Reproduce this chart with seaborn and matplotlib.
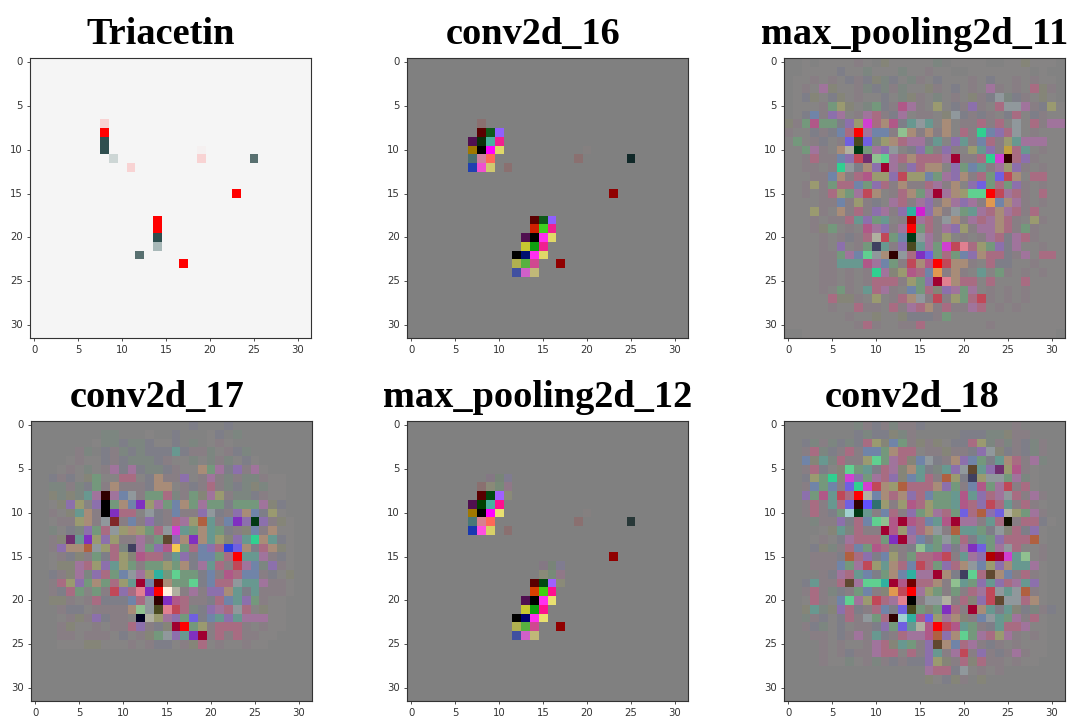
import matplotlib
matplotlib.use("Agg")
import matplotlib.pyplot as plt
import numpy as np
import seaborn as sns
from matplotlib.colors import ListedColormap

# each row is 32 cells, one letter per cell, spaces only to help counting columns
SPOT_COLORS = {
    '.': '#808080', 'w': '#f5f5f5', 'P': '#f8d3d3', 'R': '#ff0000', 'S': '#2f4f4f',
    'L': '#cdd6d5', 'l': '#a8b8b8', 'M': '#587070', 'Q': '#f5f0f0', 'a': '#8a7070',
    'A': '#858080', 'x': '#5a0000', 'X': '#900000', 'd': '#0f5a1a', 'D': '#004a10',
    'v': '#9060ff', 'V': '#a060ff', 'j': '#501050', 'f': '#0a300a', 'F': '#004000',
    't': '#4ab0a0', 'p': '#f02090', 'I': '#ff1090', 'o': '#a07800', 'K': '#000000',
    'm': '#ff00ff', 'y': '#e0d868', 'Y': '#e8e070', 'c': '#4a7070', 'C': '#487878',
    'h': '#d080a0', 'H': '#d88090', 'n': '#ff6858', 'b': '#2040b0', 'B': '#1838b0',
    'i': '#f050d0', 'J': '#ff50e0', 'u': '#d0c870', 'U': '#d8d068', 'z': '#102828',
    'Z': '#283838', '1': '#d02000', '2': '#d84000', '3': '#40d020', '4': '#40d010',
    '5': '#ff30f0', '6': '#c8c830', '7': '#10a010', '8': '#001070', '9': '#000070',
    '0': '#b0b050', 'g': '#58b040', 's': '#d04890', 'q': '#4050a0', 'r': '#d060c8',
    'k': '#c0b878', 'E': '#847884', 'G': '#788478', 'N': '#807c90', 'O': '#8a8a78',
    'T': '#788a78', 'W': '#907888',
}

NOISE_COLORS = {
    '.': '#828282', ',': '#868484', '-': '#7c8680', '~': '#7e7e88', ':': '#887e84',
    ';': '#858578', 'g': '#74987c', 't': '#689890', 'b': '#7084a8', 'v': '#8c70ac',
    'p': '#a0749c', 'r': '#a86c82', 'o': '#a88c78', 'y': '#9a9a70', 's': '#90989c',
    'm': '#b05888', 'c': '#c04858', 'q': '#90c090', 'n': '#60d090', 'u': '#7060e0',
    'h': '#d040d0', 'k': '#b06040', 'i': '#b0b0a0', 'j': '#703070', 'x': '#e08090',
    'w': '#a0d0d0', 'z': '#6050ff', 'e': '#307070', 'l': '#802828', 'R': '#ff0000',
    'K': '#000000', 'N': '#003a14', 'E': '#300000', 'D': '#a00030', 'O': '#e09850',
    'Y': '#f5c850', 'W': '#fff0e0', 'T': '#30b0a0', 'G': '#30d090', 'U': '#3040e0',
    'V': '#8030c0', 'A': '#b00000', 'a': '#700000', 'B': '#604830', 'F': '#000020',
    'J': '#404060', 'Q': '#101000', 'Z': '#4a4a20', 'H': '#d020d0', 'S': '#c0a040',
}

TRIACETIN = [
    "", "", "", "", "", "", "",
    "wwwww wwwP",
    "wwwww wwwR",
    "wwwww wwwS",
    "wwwww wwwS wwwww wwwww Q",
    "wwwww wwwwL wwwww wwwwP wwwww M",
    "wwwww wwwww wP",
    "", "",
    "wwwww wwwww wwwww wwwww wwwR",
    "", "",
    "wwwww wwwww wwwwR",
    "wwwww wwwww wwwwR",
    "wwwww wwwww wwwwS",
    "wwwww wwwww wwwwl",
    "wwwww wwwww wwM",
    "wwwww wwwww wwwww wwR",
    "", "", "", "", "", "", "", "",
]

CONV2D_16 = [
    "", "", "", "", "", "", "",
    "..... ...a",
    "..... ...xd v",
    "..... ..jft p",
    "..... ..oKm y.... ..... A",
    "..... ..chn ..... ....a ..... z",
    "..... ..biu .a",
    "", "",
    "..... ..... ..... ..... ...X",
    "", "",
    "..... ..... ....x dv",
    "..... ..... ....1 3p",
    "..... ..... ...jK 5y",
    "..... ..... ...67 p",
    "..... ..... ..K85 y",
    "..... ..... ..0gs ..X",
    "..... ..... ..qrk",
    "", "", "", "", "", "", "",
]

MAX_POOLING_12 = [
    "", "", "", "", "", "",
    "..... ....E GN",
    "..... ...aO TW",
    "..... ...xD VO",
    "..... ..jFt I",
    "..... ..oKm Y.... ..... A",
    "..... ..CHn ..... ....a ..... Z",
    "..... ..BJU .a",
    "", "",
    "..... ..... ..... ..... ...X",
    "..... ..... ..... EGN",
    "..... ..... ..... OTW",
    "..... ..... ....x DVO",
    "..... ..... ....2 4I",
    "..... ..... ...jK 5Y",
    "..... ..... ...67 I",
    "..... ..... ..K95 Y",
    "..... ..... ..0gs ..X",
    "..... ..... ..qrk",
    "", "", "", "", "", "", "",
]

MAX_POOLING_11 = [
    "..,., ,,,:, .;,,, ,,-., ,,,.. ,,;,, ,.",
    "..,,, ,~,,- ,,,-, ,:,,. .,,,, ,,,., ..",
    ".,,:, :,~:~ ;-~,- :,~,, ,:,~, ,:,:, ,.",
    ".,:,p ;,,:- ~-:-, ,;:,~ ,:,p: ,:,r; :.",
    ".,~;, ~;,:, ,~,-; :,-,: ,;:~s -~:,; ,.",
    ".,,,: gy;,- g~:mp :,y,~ :v:,r ssp:~ y,",
    ".,~b: vp,:p r:~p, ::,;s ~:~:, ~r,~: ,,",
    ";:gmg g~vyh rom~t st,o, ::r:r ,s,r: pp",
    ":,,~: ~brRp bb:qo :o:o, r:Gbv rs,:, ,,",
    ",g,:~ ,:uZu -yorp p~t,v t:br: ytppp ,,",
    ",,gp: ,oiNg pvs,~ vg:v: ,ytv: Srt,: ,,",
    ",,:r: :bvcj qnpro rrrpD ::rGh Erv:, ,,",
    ",,::, :Gs~o vDp:v roo,v gbt:p yv:,: ,,",
    ",,,:: bo:rm yyvcy ybgpv o:rgu co,rr ,,",
    ",,:y: grrbg vr:o: :rp:o ,vugr gv:,: ,,",
    ",,:,: rygpc o,:ro gpDpo ynnRc pr:,r ,,",
    ",,,,: :b:y: ~,pr: pv:op vp:Ob op:,: ,,",
    ",,,y: ,o:r: vp:vT Hvo:s gtpro pr:r, ,,",
    ",,,:, ::rtv gt,:A pr:so :prpo r:,y: ,,",
    ",,,:; g,:,m pv:pR gr:pv y:ppo r:g:, ,,",
    ",,,,: ,:~:r icgbN sp:y, :,:pr ~pr:, ,,",
    ",,,,: ,v,:g Jt:vZ tpghc xrygv ~p,,: ,,",
    ",,,,: :gpbn soEsr Vugrg bvorr ~:p,r r,",
    ",,,,: :tttm pbg:c omRco o:,r~ ~,,:, ,,",
    ",,,,: :,:,: Gp;ym rbO:o :,t,g :,:,: ,,",
    ",,,,: :,:,: rrr:y gvDxo rr,r, ,,r,, ,,",
    ",,,,: ,g:,t rp:,b gr;vp gp,:, :,:,, ,,",
    ",,,,, r;;:, y,:ro s:c:y grc:, :,:,, ,,",
    ",,,,, :,,r: :,r:p ro:r: :pr,: ,:,,, ,,",
    ",,,,, ,,:,, ;,,;~ ~~:g, ,,,,, ,,,,, ,,",
    ",,,,, ,,,:r :,,:: r,,,, ,,,:, ,,,,, ,,",
    "..,,, ,,,,, ,,,,, ,,,,, ,,,,, ,,,,, ,.",
]

CONV2D_17 = [
    "..... ..... ..... ...~. ..~.. ..... ..",
    "..... ...-- ...,. .~... ,~.-. ..... ..",
    "..... ..,-- ~--~, ,~.-. ,:,.. ..... ..",
    "..... :-.~: -~-~~ ~t~:: -,:~- ..... ..",
    "...., :,,~: ~---~ :,,-, -:-,~ ,.... ..",
    "...,: ,-,:p ~p~-- ~:,,o gp~v: p,... ..",
    "..~:~ ,;g,, rr,~o ::v,: p:-:- -:,,. ..",
    "..--: -~g:o :::~o o,:~: r:-~- ;-,,. ..",
    "..;-; -tpEp bs:gg r-:g; py:-- ~:,,. ..",
    "..,;v y,vKg obVyp gbogp gg~gg gp;~. ..",
    "..:,; to:KV rr,s~ :b::v s~:vo b~y,. ..",
    "..,:: yo:sl :b:v~ :rpyk t:bVv Nv:;, ..",
    "..-,~ -vgrs yoygr shtgo tg~:; b:o,, ..",
    "..:;j tVyvy ::p:g BvoVo ty;vt Got~, ..",
    "..:vo oksyr -Jpgv mYgrb vrUuo ~ro;, ..",
    "..,:~ ;:g~r y;mrr ~tv~b bgrRt tp:~, ..",
    "..,;; pryvt yg:gg ygo~p tr:cp b-v:, ..",
    "..~:; p-vrg bspyT gngg~ b:mrb b:~,; ..",
    "..:ry vgogr ytDba oggn~ brrst tp::, ..",
    "..:~r g,g:c vrxVR Wi:p: vvot~ t:::, ..",
    "..;;: ,:r~~ ~brsE Vmr:: ~rbtv g:,,. ..",
    "...:~ ~,::: :oqsZ xcr-~ vprsr ,;,,. ..",
    "...,: ;:v~: :,Fiy pvgu~ btvtp pp,,. ..",
    "...:; ,,:,: :rv:~ ;DRgy :rrr: ,:,,. ..",
    "...:: ,:::, ~,:;g svtVD :r:r: :,,.. ..",
    "...,, ,;;,, ,:,:~ ~,:;r ,:,,: ,,... ..",
    "", "", "", "", "", "",
]

CONV2D_18 = [
    "..... ...-: ~:-:: ~.... ..... .:... ..",
    "..... ...~- ~~;-: ..... ~~~-- ;::.. ..",
    "..~-: -~-~r y;bg: ;:;,~ ~ry-: -:~-: ..",
    "..:r- ~:r:b bgorr ,::;: :~vs; ~:~-: ..",
    "..b;t -r::y ngpr; bs~:o vbg~t or:p- ..",
    "..:r~ ,;ngt ~rp;o t~-tv sBtvj ym:,. ..",
    "..~yg G;hvg prv;b tr:ky ~Jyss gp-,. ..",
    "..:bg b:uGh coykr rrovg :bmgp c:r,. ..",
    "..vgm tcrRi borov rbggt mtvrp sr:p: ..",
    "..:r: truEz ey:ym ryggt mrvcr t:r:, ..",
    "..:r: ~gwNt :br:v gyprg urkvu iygp: ..",
    "...-: :v~rb nqmDm rbtmD pp:tr Q:rr~ ,.",
    "...., ;t-r: :Dmyv ros:k ttg~s ;r~v, ..",
    "...,: ,~prr rgVDp b~gsg r~tgv rrrk, ..",
    "...~; -:rbg mr;:~ qtgv~ pVugp sr,,: ..",
    "...:: :~krv ~by:g rrmc: tpvAD htq,: ..",
    "...:: :bgpc ytorb crgvr osbyv ottp, ..",
    "....: ~prtb ~gobT ppDo~ JnrBo b:r:, ..",
    "..~t: :rBpn nTDma rro:q tgvtv rptv, ..",
    "..:r: -~:gb :;OcR pyg:g :rpcs tsk:, ..",
    "..,r: ,bnpy crpxK :ssi: r;vcB ssro, ..",
    "..;t- ;vr~: rb~uZ g;gVr :Dot~ t;~-: ~.",
    "..-:~ ,~r:s grEwT muypo ;:bst gp:r, ..",
    "..:~- ,~,:: ~vgut imRcm tg:~t rrp,, ..",
    "...:: ,~:p: t~:rp pmkvo ngpry p:,:, ..",
    "....: ,:,,: pr;tg :vBob rp:~: ,:,,, ..",
    "....: ,:~:: prr,r :vt:p c:v:~ :p:,, ..",
    "....: ,,-,: -:~:~ ~vy;: r;r:: ,:,,. ..",
    "..... ..... ..... .prr~ s,:,: ..... ..",
    "..... ..... ..... .;,~; :.;.. ..... ..",
    "", "",
]

TITLES = ["Triacetin", "conv2d_16", "max_pooling2d_11",
          "conv2d_17", "max_pooling2d_12", "conv2d_18"]
GRIDS = [TRIACETIN, CONV2D_16, MAX_POOLING_11, CONV2D_17, MAX_POOLING_12, CONV2D_18]
PALETTES = [SPOT_COLORS, SPOT_COLORS, NOISE_COLORS, NOISE_COLORS, SPOT_COLORS, NOISE_COLORS]
FILLS = ['w', '.', '.', '.', '.', '.']

WIDTH, HEIGHT = 1069, 717
# left, top, right, bottom of every image and the centre of its title, in pixels
BOXES = [(30, 58, 311, 338), (407, 58, 688, 338), (784, 58, 1065, 338),
         (31, 421, 312, 701), (407, 421, 688, 701), (784, 421, 1065, 701)]
TITLE_X = [161, 533, 914.5, 157.5, 537.5, 912.5]
TITLE_Y = [44, 44, 44, 407, 407, 407]


def grid_to_codes(rows, palette, fill):
    keys = list(palette)
    codes = []
    for row in rows:
        row = row.replace(' ', '').ljust(32, fill)[:32]
        codes.append([keys.index(ch) for ch in row])
    return np.array(codes)


fig = plt.figure(figsize=(WIDTH / 100, HEIGHT / 100), dpi=100)

for i, title in enumerate(TITLES):
    left, top, right, bottom = BOXES[i]
    ax = fig.add_axes([left / WIDTH, 1 - bottom / HEIGHT,
                       (right - left) / WIDTH, (bottom - top) / HEIGHT])
    palette = PALETTES[i]
    codes = grid_to_codes(GRIDS[i], palette, FILLS[i])
    sns.heatmap(codes, ax=ax, cmap=ListedColormap(list(palette.values())),
                vmin=-0.5, vmax=len(palette) - 0.5, cbar=False,
                xticklabels=5, yticklabels=5)
    for spine in ax.spines.values():
        spine.set_visible(True)
        spine.set_linewidth(0.8)
        spine.set_color('#333333')
    ax.tick_params(labelsize=7.3, length=2.5, width=0.6, pad=2.5,
                   color='#333333', labelcolor='#333333')
    ax.tick_params(axis='x', labelrotation=0)
    ax.tick_params(axis='y', labelrotation=0)
    fig.text(TITLE_X[i] / WIDTH, 1 - TITLE_Y[i] / HEIGHT, title, ha='center', va='baseline',
             family='Liberation Serif', fontweight='bold', fontsize=27.6, color='black')

fig.savefig("out.png", dpi=100)
